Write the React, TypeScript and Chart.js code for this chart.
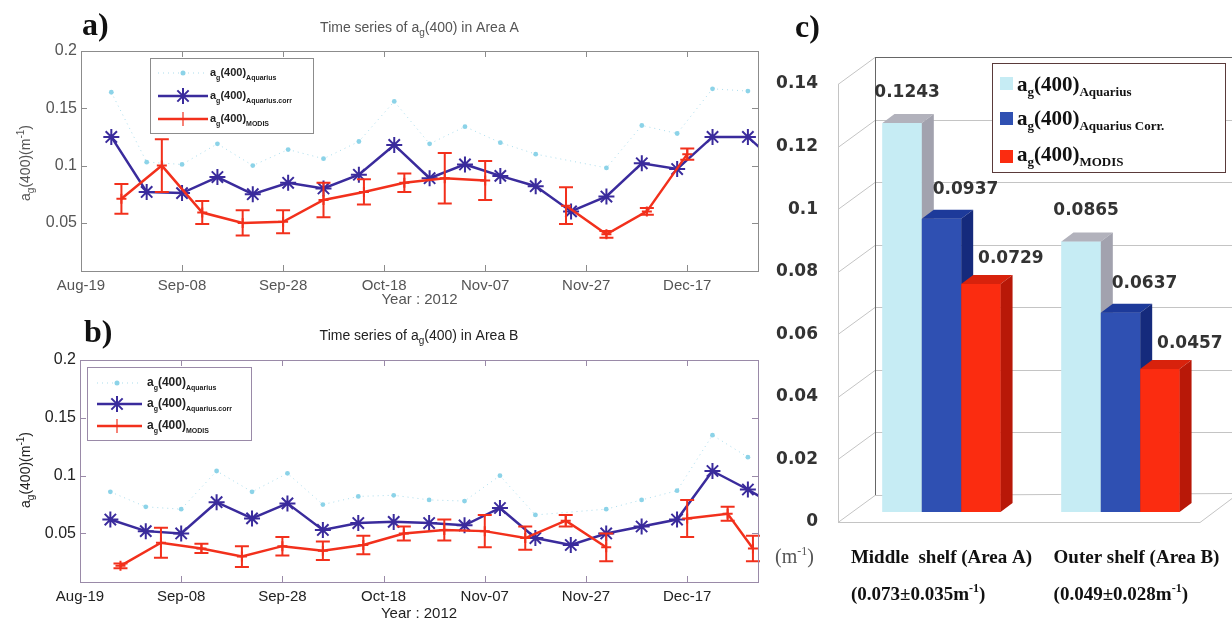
import React, { useEffect, useRef } from "react";
import { Chart, registerables } from "chart.js";

Chart.register(...registerables);

// ---------------- data: time series (x = days after 19 Aug 2012) ----------------
const X_TICK_DAYS = [0, 20, 40, 60, 80, 100, 120];
const X_TICK_LABELS = ["Aug-19", "Sep-08", "Sep-28", "Oct-18", "Nov-07", "Nov-27", "Dec-17"];
const X_MAX_DAY = 134;
const Y_TICKS_TS = [0.05, 0.1, 0.15, 0.2];
const Y_MIN_TS = 0.008;
const Y_MAX_TS = 0.2;

// Aquarius weekly composites
const AQUARIUS_DAYS = [6, 13, 20, 27, 34, 41, 48, 55, 62, 69, 76, 83, 90, 97, 104, 111, 118, 125, 132, 139];
const A_AQUARIUS = [0.164, 0.103, 0.101, 0.119, 0.1, 0.114, 0.106, 0.121, 0.156, 0.119, 0.134, 0.12, 0.11, null, 0.098, 0.135, 0.128, 0.167, 0.165, null];
const A_AQUARIUS_CORR = [0.125, 0.077, 0.076, 0.09, 0.075, 0.085, 0.08, 0.092, 0.118, 0.089, 0.101, 0.091, 0.082, 0.06, 0.073, 0.102, 0.097, 0.125, 0.125, 0.097];
const B_AQUARIUS = [0.086, 0.073, 0.071, 0.104, 0.086, 0.102, 0.075, 0.082, 0.083, 0.079, 0.078, 0.1, 0.066, null, 0.071, 0.079, 0.087, 0.135, 0.116, null];
const B_AQUARIUS_CORR = [0.062, 0.052, 0.05, 0.077, 0.063, 0.076, 0.053, 0.059, 0.06, 0.059, 0.057, 0.072, 0.046, 0.04, 0.05, 0.056, 0.062, 0.104, 0.088, 0.07];

// MODIS 8-day composites with standard deviation
const A_MODIS_DAYS = [8, 16, 24, 32, 40, 48, 56, 64, 72, 80, 88, 96, 104, 112, 120];
const A_MODIS = [0.071, 0.1, 0.059, 0.05, 0.051, 0.07, 0.077, 0.085, 0.089, 0.087, null, 0.065, 0.04, 0.06, 0.11];
const A_MODIS_ERR = [0.013, 0.023, 0.01, 0.011, 0.01, 0.015, 0.011, 0.008, 0.022, 0.017, null, 0.016, 0.003, 0.003, 0.005];
const B_MODIS_DAYS = [8, 16, 24, 32, 40, 48, 56, 64, 72, 80, 88, 96, 104, 112, 120, 128, 133];
const B_MODIS = [0.022, 0.042, 0.037, 0.03, 0.039, 0.035, 0.04, 0.05, 0.053, 0.052, 0.046, 0.061, 0.038, null, 0.063, 0.067, 0.037];
const B_MODIS_ERR = [0.002, 0.013, 0.004, 0.009, 0.008, 0.008, 0.008, 0.006, 0.009, 0.014, 0.01, 0.005, 0.012, null, 0.016, 0.006, 0.011];

// ---------------- data: bar chart (c) ----------------
const C_CATEGORIES = ["Middle  shelf (Area A)", "Outer shelf (Area B)"];
const C_SUBLABELS = ["(0.073\u00b10.035m", "(0.049\u00b10.028m"];
const C_AQUARIUS = [0.1243, 0.0865];
const C_AQUARIUS_CORR = [0.0937, 0.0637];
const C_MODIS = [0.0729, 0.0457];
const C_Y_TICKS = [0, 0.02, 0.04, 0.06, 0.08, 0.1, 0.12, 0.14];
const C_SERIES_SUBS = ["Aquarius", "Aquarius Corr.", "MODIS"];

// ---------------- styles ----------------
const SANS = "'Liberation Sans', Arial, sans-serif";
const SERIF = "'Liberation Serif', 'Times New Roman', serif";
const DEJAVU = "'DejaVu Sans', sans-serif";
const RED = "#f2301c";
const BLUE = "#3a2b9c";
const CYAN_POINT = "#8cd3e8";
const CYAN_LINE = "rgba(150,212,232,0.8)";

const C_FRONT = ["#c6ecf4", "#2f50b2", "#fb2c10"];
const C_TOP = ["#b2b2bc", "#1d3a9a", "#d8220c"];
const C_SIDE = ["#a2a2ae", "#152a7c", "#b81808"];
const C_LABEL_OFFSETS = [[5, -31], [24, -29], [30, -25]];
const C_CAT_SHIFT = [0, 16];
const DX3 = 12;
const DY3 = 9;

type Piece = { t: string; f: string; dy?: number };

function piecesWidth(ctx: CanvasRenderingContext2D, ps: Piece[]) {
  let w = 0;
  for (const p of ps) {
    ctx.font = p.f;
    w += ctx.measureText(p.t).width;
  }
  return w;
}

function drawPieces(
  ctx: CanvasRenderingContext2D,
  ps: Piece[],
  x: number,
  y: number,
  align: "left" | "center" | "right",
  color: string
) {
  const w = piecesWidth(ctx, ps);
  let cx = align === "center" ? x - w / 2 : align === "right" ? x - w : x;
  ctx.fillStyle = color;
  ctx.textAlign = "left";
  ctx.textBaseline = "alphabetic";
  for (const p of ps) {
    ctx.font = p.f;
    ctx.fillText(p.t, cx, y + (p.dy ?? 0));
    cx += ctx.measureText(p.t).width;
  }
}

function drawStar(ctx: CanvasRenderingContext2D, x: number, y: number, r: number) {
  ctx.beginPath();
  for (let k = 0; k < 4; k++) {
    const a = (k * Math.PI) / 4;
    ctx.moveTo(x - r * Math.cos(a), y - r * Math.sin(a));
    ctx.lineTo(x + r * Math.cos(a), y + r * Math.sin(a));
  }
  ctx.stroke();
}

interface TsStyle {
  top: number;
  width: number;
  height: number;
  area: { left: number; top: number; right: number; bottom: number };
  text: string;
  box: string;
  letter: string;
  letterPos: [number, number];
  titleY: number;
  yearY: number;
  yTitle: [number, number];
  areaName: string;
  legend: { x: number; y: number; w: number; h: number; rows: number[]; lx0: number; lx1: number; mx: number; tx: number; font: number; subs: string[] };
}

interface TsSpec {
  style: TsStyle;
  aquarius: (number | null)[];
  corr: (number | null)[];
  modisDays: number[];
  modis: (number | null)[];
  modisErr: (number | null)[];
}

const PANEL_A: TsSpec = {
  style: {
    top: 0,
    width: 770,
    height: 312,
    area: { left: 81, top: 51, right: 758, bottom: 271 },
    text: "#555",
    box: "#8c8c8c",
    letter: "a)",
    letterPos: [82, 35],
    titleY: 32,
    yearY: 304,
    yTitle: [25, 163],
    areaName: "A",
    legend: { x: 150, y: 58, w: 163, h: 75, rows: [73, 96, 119], lx0: 158, lx1: 208, mx: 183, tx: 210, font: 11, subs: ["Aquarius", "Aquarius.corr", "MODIS"] },
  },
  aquarius: A_AQUARIUS,
  corr: A_AQUARIUS_CORR,
  modisDays: A_MODIS_DAYS,
  modis: A_MODIS,
  modisErr: A_MODIS_ERR,
};

const PANEL_B: TsSpec = {
  style: {
    top: 312,
    width: 770,
    height: 312,
    area: { left: 80, top: 48, right: 758, bottom: 270 },
    text: "#222",
    box: "#9a8aa8",
    letter: "b)",
    letterPos: [84, 30],
    titleY: 28,
    yearY: 306,
    yTitle: [25, 158],
    areaName: "B",
    legend: { x: 87, y: 55, w: 164, h: 73, rows: [71, 92, 114], lx0: 97, lx1: 142, mx: 117, tx: 147, font: 12, subs: ["Aquarius", "Aquarius.corr", "MODIS"] },
  },
  aquarius: B_AQUARIUS,
  corr: B_AQUARIUS_CORR,
  modisDays: B_MODIS_DAYS,
  modis: B_MODIS,
  modisErr: B_MODIS_ERR,
};

function tsPlugin(spec: TsSpec) {
  const st = spec.style;
  return {
    id: "tsDecor",
    afterDatasetsDraw(chart: any) {
      const { ctx, scales } = chart;
      const x = scales.x;
      const y = scales.y;
      ctx.save();
      ctx.strokeStyle = RED;
      ctx.lineWidth = 2;
      spec.modisDays.forEach((d, i) => {
        const v = spec.modis[i];
        const e = spec.modisErr[i];
        if (v == null || e == null) return;
        const px = x.getPixelForValue(d);
        const y1 = y.getPixelForValue(v + e);
        const y2 = y.getPixelForValue(v - e);
        ctx.beginPath();
        ctx.moveTo(px, y1);
        ctx.lineTo(px, y2);
        ctx.moveTo(px - 7, y1);
        ctx.lineTo(px + 7, y1);
        ctx.moveTo(px - 7, y2);
        ctx.lineTo(px + 7, y2);
        ctx.stroke();
      });
      ctx.restore();
    },
    afterDraw(chart: any) {
      const { ctx, chartArea: ca, scales } = chart;
      const x = scales.x;
      const y = scales.y;
      ctx.save();
      // box
      ctx.strokeStyle = st.box;
      ctx.lineWidth = 1;
      ctx.strokeRect(ca.left + 0.5, ca.top + 0.5, ca.right - ca.left, ca.bottom - ca.top);
      // inward ticks
      ctx.beginPath();
      X_TICK_DAYS.forEach((d) => {
        const px = Math.round(x.getPixelForValue(d)) + 0.5;
        ctx.moveTo(px, ca.bottom);
        ctx.lineTo(px, ca.bottom - 6);
        ctx.moveTo(px, ca.top);
        ctx.lineTo(px, ca.top + 6);
      });
      Y_TICKS_TS.forEach((v) => {
        const py = Math.round(y.getPixelForValue(v)) + 0.5;
        ctx.moveTo(ca.left, py);
        ctx.lineTo(ca.left + 6, py);
        ctx.moveTo(ca.right, py);
        ctx.lineTo(ca.right - 6, py);
      });
      ctx.stroke();

      // legend
      const L = st.legend;
      ctx.fillStyle = "#fff";
      ctx.fillRect(L.x, L.y, L.w, L.h);
      ctx.strokeStyle = st.box;
      ctx.strokeRect(L.x + 0.5, L.y + 0.5, L.w, L.h);
      // row 0
      ctx.strokeStyle = CYAN_LINE;
      ctx.lineWidth = 1;
      ctx.setLineDash([1, 4]);
      ctx.beginPath();
      ctx.moveTo(L.lx0, L.rows[0]);
      ctx.lineTo(L.lx1, L.rows[0]);
      ctx.stroke();
      ctx.setLineDash([]);
      ctx.fillStyle = CYAN_POINT;
      ctx.beginPath();
      ctx.arc(L.mx, L.rows[0], 2.5, 0, Math.PI * 2);
      ctx.fill();
      // row 1
      ctx.strokeStyle = BLUE;
      ctx.lineWidth = 2.5;
      ctx.beginPath();
      ctx.moveTo(L.lx0, L.rows[1]);
      ctx.lineTo(L.lx1, L.rows[1]);
      ctx.stroke();
      ctx.lineWidth = 2;
      drawStar(ctx, L.mx, L.rows[1], 8);
      // row 2
      ctx.strokeStyle = RED;
      ctx.lineWidth = 2.5;
      ctx.beginPath();
      ctx.moveTo(L.lx0, L.rows[2]);
      ctx.lineTo(L.lx1, L.rows[2]);
      ctx.stroke();
      ctx.lineWidth = 1.2;
      ctx.beginPath();
      ctx.moveTo(L.mx, L.rows[2] - 7);
      ctx.lineTo(L.mx, L.rows[2] + 7);
      ctx.stroke();
      const big = `bold ${L.font}px ${SANS}`;
      const small = `bold ${Math.round(L.font * 0.62)}px ${SANS}`;
      L.subs.forEach((s, i) => {
        drawPieces(
          ctx,
          [
            { t: "a", f: big },
            { t: "g", f: small, dy: 4 },
            { t: "(400)", f: big },
            { t: s, f: small, dy: 4 },
          ],
          L.tx,
          L.rows[i] + 3,
          "left",
          "#222"
        );
      });

      // panel letter
      ctx.font = `bold 32px ${SERIF}`;
      ctx.fillStyle = "#111";
      ctx.textAlign = "left";
      ctx.textBaseline = "alphabetic";
      ctx.fillText(st.letter, st.letterPos[0], st.letterPos[1]);

      // title
      const cx = (ca.left + ca.right) / 2;
      drawPieces(
        ctx,
        [
          { t: "Time series of a", f: `14px ${SANS}` },
          { t: "g", f: `10px ${SANS}`, dy: 4 },
          { t: `(400) in Area ${st.areaName}`, f: `14px ${SANS}` },
        ],
        cx,
        st.titleY,
        "center",
        st.text
      );
      // x title
      drawPieces(ctx, [{ t: "Year : 2012", f: `15px ${SANS}` }], cx, st.yearY, "center", st.text);
      // y title
      ctx.translate(st.yTitle[0], st.yTitle[1]);
      ctx.rotate(-Math.PI / 2);
      drawPieces(
        ctx,
        [
          { t: "a", f: `14px ${SANS}` },
          { t: "g", f: `10px ${SANS}`, dy: 4 },
          { t: "(400)(m", f: `14px ${SANS}` },
          { t: "-1", f: `10px ${SANS}`, dy: -6 },
          { t: ")", f: `14px ${SANS}` },
        ],
        0,
        5,
        "center",
        st.text
      );
      ctx.restore();
    },
  };
}

function buildTsConfig(spec: TsSpec): any {
  const st = spec.style;
  const ca = st.area;
  return {
    type: "line",
    data: {
      datasets: [
        {
          label: "Aquarius",
          data: AQUARIUS_DAYS.map((d, i) => ({ x: d, y: spec.aquarius[i] })),
          borderColor: CYAN_LINE,
          borderWidth: 1,
          borderDash: [1, 4],
          pointRadius: 2.4,
          pointBackgroundColor: CYAN_POINT,
          pointBorderWidth: 0,
          spanGaps: true,
          order: 3,
        },
        {
          label: "Aquarius corr",
          data: AQUARIUS_DAYS.map((d, i) => ({ x: d, y: spec.corr[i] })),
          borderColor: BLUE,
          borderWidth: 2.5,
          pointStyle: "star",
          pointRadius: 8,
          pointBorderWidth: 2,
          pointBorderColor: BLUE,
          pointBackgroundColor: BLUE,
          order: 2,
        },
        {
          label: "MODIS",
          data: spec.modisDays.map((d, i) => ({ x: d, y: spec.modis[i] })),
          borderColor: RED,
          borderWidth: 2.5,
          pointStyle: "cross",
          pointRadius: 5,
          pointBorderWidth: 2,
          pointBorderColor: RED,
          spanGaps: false,
          clip: { left: 0, top: 0, right: 10, bottom: 0 },
          order: 1,
        },
      ],
    },
    options: {
      responsive: false,
      animation: false,
      devicePixelRatio: 1,
      layout: { padding: { top: ca.top, right: st.width - ca.right, left: 0, bottom: 0 } },
      plugins: { legend: { display: false }, tooltip: { enabled: false }, title: { display: false } },
      scales: {
        x: {
          type: "linear",
          min: 0,
          max: X_MAX_DAY,
          grid: { display: false, drawTicks: false },
          border: { display: false },
          afterBuildTicks: (s: any) => {
            s.ticks = X_TICK_DAYS.map((v) => ({ value: v }));
          },
          afterFit: (s: any) => {
            s.height = st.height - ca.bottom;
          },
          ticks: {
            autoSkip: false,
            maxRotation: 0,
            padding: 6,
            color: st.text,
            font: { family: SANS, size: 15 },
            callback: (v: any) => {
              const i = X_TICK_DAYS.indexOf(Number(v));
              return i >= 0 ? X_TICK_LABELS[i] : "";
            },
          },
        },
        y: {
          min: Y_MIN_TS,
          max: Y_MAX_TS,
          grid: { display: false, drawTicks: false },
          border: { display: false },
          afterBuildTicks: (s: any) => {
            s.ticks = Y_TICKS_TS.map((v) => ({ value: v }));
          },
          afterFit: (s: any) => {
            s.width = ca.left;
          },
          ticks: {
            padding: 4,
            color: st.text,
            font: { family: SANS, size: 16 },
            callback: (v: any) => String(v),
          },
        },
      },
    },
    plugins: [tsPlugin(spec)],
  };
}

function TimeSeriesPanel({ spec }: { spec: TsSpec }) {
  const ref = useRef<HTMLCanvasElement>(null);
  useEffect(() => {
    const chart = new Chart(ref.current as HTMLCanvasElement, buildTsConfig(spec));
    return () => chart.destroy();
  }, [spec]);
  return (
    <canvas
      ref={ref}
      width={spec.style.width}
      height={spec.style.height}
      style={{ position: "absolute", left: 0, top: spec.style.top, display: "block" }}
    />
  );
}

// ---------------- panel c ----------------
const C_W = 472;
const C_H = 624;
const C_LEFT = 760;

const barPlugin = {
  id: "bar3d",
  beforeDatasetsDraw(chart: any) {
    const { ctx } = chart;
    const y = chart.scales.y;
    const frontX = 78;
    const wallX = 115;
    ctx.save();
    ctx.lineWidth = 1;
    C_Y_TICKS.forEach((v) => {
      const py = y.getPixelForValue(v);
      const fy = Math.round(py + 10) + 0.5;
      const wy = Math.round(py - 17) + 0.5;
      ctx.strokeStyle = "#c4c4c4";
      ctx.beginPath();
      ctx.moveTo(frontX, fy);
      ctx.lineTo(wallX, wy);
      if (v !== 0) ctx.lineTo(C_W, wy);
      ctx.stroke();
    });
    const top = y.getPixelForValue(0.14);
    const zero = y.getPixelForValue(0);
    // floor
    ctx.strokeStyle = "#c4c4c4";
    ctx.beginPath();
    ctx.moveTo(frontX, Math.round(zero + 10) + 0.5);
    ctx.lineTo(440, Math.round(zero + 10) + 0.5);
    ctx.lineTo(C_W, Math.round(zero - 14) + 0.5);
    ctx.moveTo(wallX, Math.round(zero - 17) + 0.5);
    ctx.lineTo(C_W, Math.round(zero - 19) + 0.5);
    ctx.moveTo(frontX + 0.5, top + 10);
    ctx.lineTo(frontX + 0.5, zero + 10);
    ctx.stroke();
    ctx.strokeStyle = "#666";
    ctx.beginPath();
    ctx.moveTo(wallX + 0.5, top - 17);
    ctx.lineTo(wallX + 0.5, zero - 17);
    ctx.moveTo(wallX, Math.round(top - 17) + 0.5);
    ctx.lineTo(C_W, Math.round(top - 17) + 0.5);
    ctx.stroke();
    ctx.restore();
  },
  afterDatasetsDraw(chart: any) {
    const { ctx } = chart;
    const metas = [0, 1, 2].map((i) => chart.getDatasetMeta(i));
    ctx.save();
    const boxes: any[] = [];
    for (let c = 0; c < C_CATEGORIES.length; c++) {
      for (let d = 0; d < 3; d++) {
        const el = metas[d].data[c];
        const { x, y, base, width } = el.getProps(["x", "y", "base", "width"], true);
        const l = x - width / 2;
        const r = x + width / 2;
        ctx.fillStyle = C_FRONT[d];
        ctx.fillRect(l, y, width, base - y);
        ctx.fillStyle = C_TOP[d];
        ctx.beginPath();
        ctx.moveTo(l, y);
        ctx.lineTo(l + DX3, y - DY3);
        ctx.lineTo(r + DX3, y - DY3);
        ctx.lineTo(r, y);
        ctx.closePath();
        ctx.fill();
        ctx.fillStyle = C_SIDE[d];
        ctx.beginPath();
        ctx.moveTo(r, y);
        ctx.lineTo(r + DX3, y - DY3);
        ctx.lineTo(r + DX3, base - DY3);
        ctx.lineTo(r, base);
        ctx.closePath();
        ctx.fill();
        boxes.push({ x, y, d, v: chart.data.datasets[d].data[c] });
      }
    }
    ctx.font = `bold 17px ${DEJAVU}`;
    ctx.fillStyle = "#333";
    ctx.textAlign = "center";
    ctx.textBaseline = "middle";
    boxes.forEach((b) => {
      const [ox, oy] = C_LABEL_OFFSETS[b.d];
      ctx.fillText(Number(b.v).toFixed(4), b.x + ox, b.y + oy);
    });
    ctx.restore();
  },
  afterDraw(chart: any) {
    const { ctx } = chart;
    const xs = chart.scales.x;
    ctx.save();
    // legend
    const lx = 232;
    const ly = 63;
    ctx.fillStyle = "#fff";
    ctx.fillRect(lx, ly, 233, 109);
    ctx.strokeStyle = "#5a3a3a";
    ctx.lineWidth = 1;
    ctx.strokeRect(lx + 0.5, ly + 0.5, 233, 109);
    const rowSq = [77, 112, 150];
    const rowBase = [91, 125, 161];
    const big = `bold 21px ${SERIF}`;
    const small = `bold 13px ${SERIF}`;
    C_SERIES_SUBS.forEach((s, i) => {
      ctx.fillStyle = C_FRONT[i];
      ctx.fillRect(240, rowSq[i], 13, 13);
      drawPieces(
        ctx,
        [
          { t: "a", f: big },
          { t: "g", f: small, dy: 5 },
          { t: "(400)", f: big },
          { t: s, f: small, dy: 5 },
        ],
        257,
        rowBase[i],
        "left",
        "#111"
      );
    });
    // category labels
    const lab = `bold 19px ${SERIF}`;
    const sup = `bold 12px ${SERIF}`;
    C_CATEGORIES.forEach((name, i) => {
      const cx = xs.getPixelForValue(i) + C_CAT_SHIFT[i];
      ctx.font = lab;
      const w = ctx.measureText(name).width;
      const left = cx - w / 2;
      drawPieces(ctx, [{ t: name, f: lab }], left, 563, "left", "#111");
      drawPieces(
        ctx,
        [
          { t: C_SUBLABELS[i], f: lab },
          { t: "-1", f: sup, dy: -8 },
          { t: ")", f: lab },
        ],
        left,
        600,
        "left",
        "#111"
      );
    });
    // unit
    drawPieces(
      ctx,
      [
        { t: "(m", f: `20px ${SERIF}` },
        { t: "-1", f: `12px ${SERIF}`, dy: -8 },
        { t: ")", f: `20px ${SERIF}` },
      ],
      15,
      563,
      "left",
      "#555"
    );
    // letter
    ctx.font = `bold 32px ${SERIF}`;
    ctx.fillStyle = "#111";
    ctx.textAlign = "left";
    ctx.textBaseline = "alphabetic";
    ctx.fillText("c)", 35, 37);
    ctx.restore();
  },
};

function buildBarConfig(): any {
  return {
    type: "bar",
    data: {
      labels: C_CATEGORIES,
      datasets: [
        { label: "Aquarius", data: C_AQUARIUS, backgroundColor: C_FRONT[0] },
        { label: "Aquarius Corr.", data: C_AQUARIUS_CORR, backgroundColor: C_FRONT[1] },
        { label: "MODIS", data: C_MODIS, backgroundColor: C_FRONT[2] },
      ],
    },
    options: {
      responsive: false,
      animation: false,
      devicePixelRatio: 1,
      layout: { padding: { top: 74, right: 22, left: 0, bottom: 0 } },
      datasets: { bar: { barPercentage: 1, categoryPercentage: 0.66 } },
      plugins: { legend: { display: false }, tooltip: { enabled: false }, title: { display: false } },
      scales: {
        x: {
          grid: { display: false, drawTicks: false },
          border: { display: false },
          ticks: { display: false },
          afterFit: (s: any) => {
            s.height = 112;
          },
        },
        y: {
          min: 0,
          max: 0.14,
          grid: { display: false, drawTicks: false },
          border: { display: false },
          afterBuildTicks: (s: any) => {
            s.ticks = C_Y_TICKS.map((v) => ({ value: v }));
          },
          afterFit: (s: any) => {
            s.width = 92;
          },
          ticks: {
            padding: 34,
            labelOffset: 10,
            color: "#333",
            font: { family: DEJAVU, size: 17, weight: "bold" },
            callback: (v: any) => String(v),
          },
        },
      },
    },
    plugins: [barPlugin],
  };
}

function BarPanel() {
  const ref = useRef<HTMLCanvasElement>(null);
  useEffect(() => {
    const chart = new Chart(ref.current as HTMLCanvasElement, buildBarConfig());
    return () => chart.destroy();
  }, []);
  return (
    <canvas
      ref={ref}
      width={C_W}
      height={C_H}
      style={{ position: "absolute", left: C_LEFT, top: 0, display: "block" }}
    />
  );
}

export default function App() {
  return (
    <div
      style={{
        position: "absolute",
        left: 0,
        top: 0,
        width: 1232,
        height: 624,
        background: "#fff",
        overflow: "hidden",
      }}
    >
      <TimeSeriesPanel spec={PANEL_A} />
      <TimeSeriesPanel spec={PANEL_B} />
      <BarPanel />
    </div>
  );
}
